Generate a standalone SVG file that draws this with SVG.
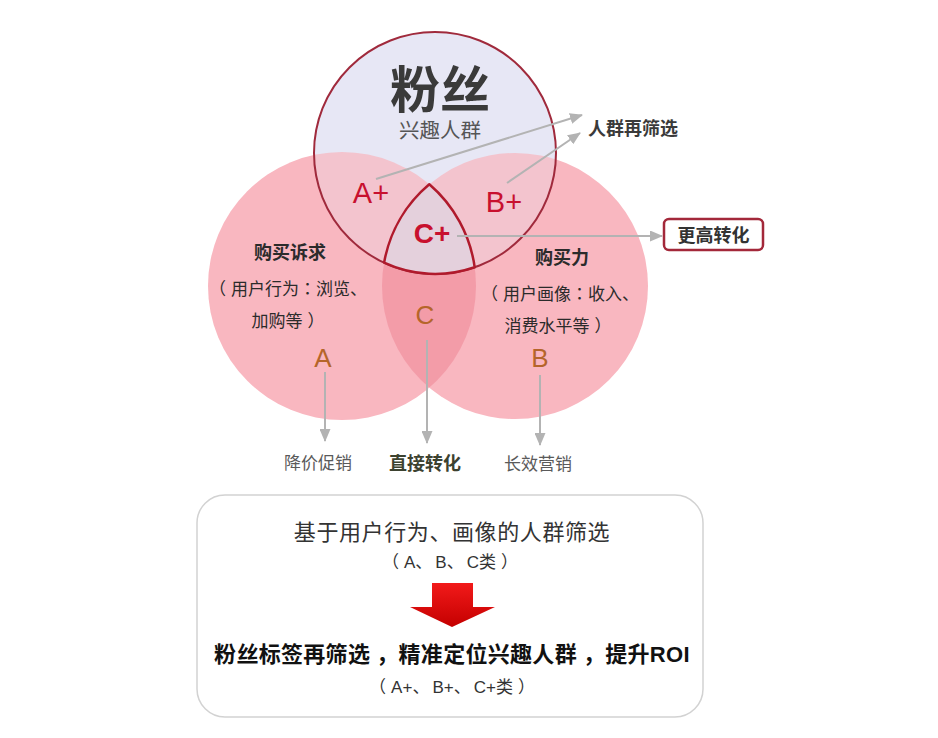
<svg xmlns="http://www.w3.org/2000/svg" width="938" height="738" viewBox="0 0 938 738">
<style>
.t{font-family:"Liberation Sans","Noto Sans CJK SC",sans-serif;text-anchor:middle}
.tc{font-family:"Noto Sans CJK TC",sans-serif}
.b{font-weight:bold}
.conn{stroke:#b3b3b3;stroke-width:2;fill:none}
.red{fill:#c8102e}
.brn{fill:#b5652a}
.dk{fill:#2b2b2b}
.gr{fill:#5a5a5a}
</style>
<defs>
<marker id="ah" markerUnits="userSpaceOnUse" markerWidth="13" markerHeight="11" refX="12" refY="5.5" orient="auto">
<path d="M0,0 L13,5.5 L0,11 z" fill="#b3b3b3"/>
</marker>
<clipPath id="cL"><circle cx="342" cy="286" r="134"/></clipPath>
<clipPath id="cT"><circle cx="435" cy="153" r="121"/></clipPath>
<linearGradient id="rg" x1="0" y1="0" x2="0" y2="1">
<stop offset="0" stop-color="#f21a1a"/>
<stop offset="1" stop-color="#c40000"/>
</linearGradient>
</defs>
<rect width="938" height="738" fill="#ffffff"/>
<g id="venn">
<g id="circle-A">
<circle cx="342" cy="286" r="134" fill="#f9b7c0"/>
</g>
<g id="circle-B">
<circle cx="515" cy="286" r="133" fill="#f9b7c0"/>
</g>
<g id="region-C">
<circle cx="515" cy="286" r="133" fill="#f39ca8" clip-path="url(#cL)"/>
</g>
<g id="circle-fans">
<circle cx="435" cy="153" r="121" fill="#e7e7f5"/>
<g clip-path="url(#cT)">
<circle cx="342" cy="286" r="134" fill="#f3c4ce"/>
<circle cx="515" cy="286" r="133" fill="#f3c4ce"/>
</g>
<circle cx="435" cy="153" r="121" fill="none" stroke="#a02a3c" stroke-width="2"/>
</g>
<g id="region-Cplus">
<path d="M429.3,184.3 A134,134 0 0 1 474.7,267.3 A121,121 0 0 1 384.1,262.7 A133,133 0 0 1 429.3,184.3 Z" fill="#e4d0dc" stroke="#b01a2c" stroke-width="2.5" stroke-linejoin="round"/>
</g>
</g>
<g id="connectors">
<line class="conn" x1="376" y1="179" x2="582" y2="115" marker-end="url(#ah)"/>
<line class="conn" x1="507" y1="183" x2="580" y2="133" marker-end="url(#ah)"/>
<line class="conn" x1="457" y1="236" x2="662" y2="236" marker-end="url(#ah)"/>
<line class="conn" x1="325" y1="372" x2="325" y2="441" marker-end="url(#ah)"/>
<line class="conn" x1="427" y1="340" x2="427" y2="443" marker-end="url(#ah)"/>
<line class="conn" x1="540" y1="375" x2="540" y2="445" marker-end="url(#ah)"/>
</g>
<g id="node-fans-label">
<text class="t b" x="440" y="108" font-size="50" fill="#3a3a3a">粉丝</text>
<text class="t" x="440" y="138" font-size="20.5" fill="#555555">兴趣人群</text>
</g>
<g id="node-Aplus"><text class="t red" x="371" y="203" font-size="29">A+</text></g>
<g id="node-Bplus"><text class="t red" x="504" y="212" font-size="29">B+</text></g>
<g id="node-Cplus"><text class="t b red" x="432" y="243" font-size="28">C+</text></g>
<g id="node-refilter"><text class="t b" x="633" y="135" font-size="18" fill="#3a3a3a">人群再筛选</text></g>
<g id="node-higher">
<rect x="664" y="219" width="99" height="31" rx="5" fill="#ffffff" stroke="#a3283a" stroke-width="2.5"/>
<text class="t b" x="713.5" y="242" font-size="18" fill="#333333">更高转化</text>
</g>
<g id="node-A">
<text class="t b dk" x="290" y="259" font-size="18">购买诉求</text>
<text class="t dk" x="288" y="295" font-size="17">（<tspan dx="5">用户行为</tspan><tspan class="tc">：</tspan>浏览、</text>
<text class="t dk" x="288" y="327" font-size="17">加购等<tspan dx="5">）</tspan></text>
<text class="t brn" x="323" y="367" font-size="26">A</text>
</g>
<g id="node-C"><text class="t brn" x="425" y="324" font-size="26">C</text></g>
<g id="node-B">
<text class="t b dk" x="562" y="264" font-size="18">购买力</text>
<text class="t dk" x="560" y="300" font-size="17">（<tspan dx="5">用户画像</tspan><tspan class="tc">：</tspan>收入、</text>
<text class="t dk" x="558" y="332" font-size="17">消费水平等<tspan dx="5">）</tspan></text>
<text class="t brn" x="540" y="367" font-size="26">B</text>
</g>
<g id="node-discount"><text class="t gr" x="318" y="469" font-size="17">降价促销</text></g>
<g id="node-direct"><text class="t b" x="425" y="470" font-size="18" fill="#3c4230">直接转化</text></g>
<g id="node-longterm"><text class="t gr" x="538" y="470" font-size="17">长效营销</text></g>
<g id="node-summary">
<rect x="197" y="495" width="506" height="222" rx="28" fill="#ffffff" stroke="#d2d2d2" stroke-width="1.5"/>
<text class="t" x="452" y="540" font-size="22" letter-spacing="0.6" fill="#333333">基于用户行为、画像的人群筛选</text>
<text class="t" x="450" y="568" font-size="17" fill="#333333">（<tspan dx="5">A、</tspan><tspan dx="3">B、</tspan><tspan dx="3">C类</tspan><tspan dx="5">）</tspan></text>
<polygon points="432,583 473,583 473,607 495,607 452,627 410,607 432,607" fill="url(#rg)"/>
<text class="t b" x="452" y="662" font-size="22" letter-spacing="0.3" fill="#111111">粉丝标签再筛选<tspan dx="6">，</tspan>精准定位兴趣人群<tspan dx="6">，</tspan>提升ROI</text>
<text class="t" x="452" y="693" font-size="17" fill="#333333">（<tspan dx="5">A+、</tspan><tspan dx="3">B+、</tspan><tspan dx="3">C+类</tspan><tspan dx="5">）</tspan></text>
</g>
</svg>
